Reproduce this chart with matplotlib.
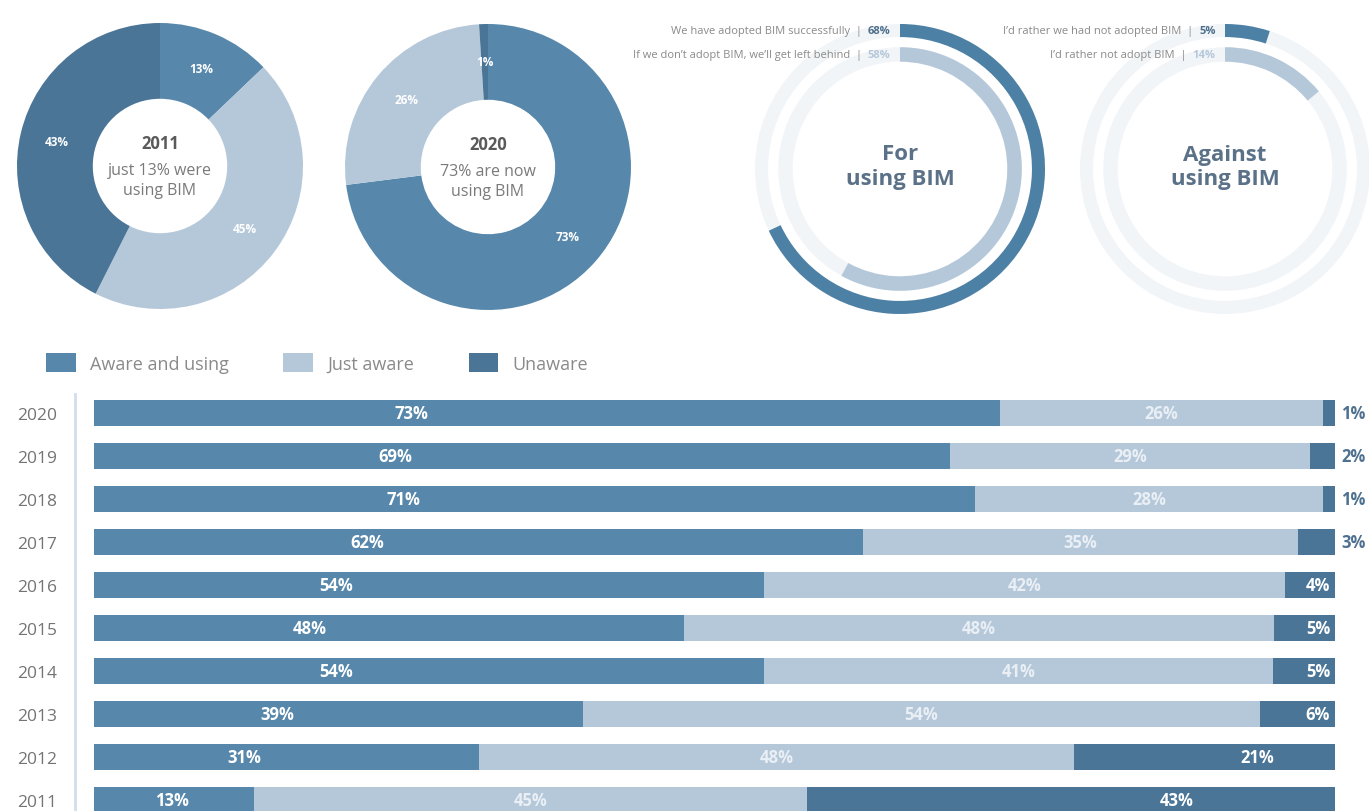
import numpy as np
import matplotlib.pyplot as plt
from matplotlib.patches import Patch

plt.rcParams['font.family'] = ['Open Sans', 'DejaVu Sans']

#%% Data

years      = ['2011', '2012', '2013', '2014', '2015', '2016', '2017', '2018', '2019', '2020']
aware      = [13, 31, 39, 54, 48, 54, 62, 71, 69, 73]
just_aware = [45, 48, 54, 41, 48, 42, 35, 28, 29, 26]
unaware    = [43, 21,  6,  5,  5,  4,  3,  1,  2,  1]
series     = ['Aware and using', 'Just aware', 'Unaware']

pie_2011   = [13, 45, 43]
pie_2020   = [73, 26, 1]
text_2011  = 'just 13% were\nusing BIM'
text_2020  = '73% are now\nusing BIM'

for_labels     = ['We have adopted BIM successfully', 'If we don\u2019t adopt BIM, we\u2019ll get left behind']
for_values     = [68, 58]
against_labels = ['I\u2019d rather we had not adopted BIM', 'I\u2019d rather not adopt BIM']
against_values = [5, 14]

#%% Style

c_aware   = '#5788ac'
c_light   = '#b5c8da'
c_unaware = '#4a7597'
c_ring    = '#4d80a5'
c_track   = '#f2f5f8'
c_text    = '#747474'
c_title   = '#5b7188'

W, H = 1369, 812
fig = plt.figure(figsize=(W / 100, H / 100), dpi=100, facecolor='white')


def px_axes(cx, cy, r):
    ax = fig.add_axes([(cx - r) / W, 1 - (cy + r) / H, 2 * r / W, 2 * r / H])
    return ax


def donut(cx, cy, vals, year, sub):
    ax = px_axes(cx, cy, 143)
    wedges, _ = ax.pie(vals, colors=[c_aware, c_light, c_unaware], startangle=90,
                       counterclock=False, wedgeprops=dict(width=0.53, linewidth=0))
    for w, v in zip(wedges, vals):
        ang = np.deg2rad((w.theta1 + w.theta2) / 2)
        ax.text(0.74 * np.cos(ang), 0.74 * np.sin(ang), '{}%'.format(v), color='white',
                fontsize=8.5, fontweight='bold', ha='center', va='center')
    ax.text(0, 0.16, year, color='#5a5a5a', fontsize=12, fontweight='bold', ha='center', va='center')
    ax.text(0, -0.1, sub, color='#7a7a7a', fontsize=11.5, ha='center', va='center', linespacing=1.3)
    ax.set_xlim(-1, 1)
    ax.set_ylim(-1, 1)
    ax.axis('off')


def ring(cx, cy, vals, labels, title):
    ax = px_axes(cx, cy, 145)
    radii  = [1.0, 0.84]
    widths = [0.09, 0.1]
    cols   = [c_ring, c_light]
    vcols  = ['#4f6f8c', c_light]
    for v, lab, r, wd, c, vc in zip(vals, labels, radii, widths, cols, vcols):
        ax.pie([100], radius=r, colors=[c_track], wedgeprops=dict(width=wd, linewidth=0))
        ax.pie([v, 100 - v], radius=r, colors=[c, 'none'], startangle=90, counterclock=False,
               wedgeprops=dict(width=wd, linewidth=0))
        t = ax.text(-0.065, r - wd / 2, '{}%'.format(v), color=vc, fontsize=8,
                    fontweight='bold', ha='right', va='center')
        ax.annotate(lab + '  |  ', xy=(0, 0.5), xycoords=t, color='#8a8a8a', fontsize=8,
                    ha='right', va='center')
    ax.text(0, 0.02, title, color=c_title, fontsize=16, fontweight='bold', ha='center',
            va='center', linespacing=1.2)
    ax.set_xlim(-1, 1)
    ax.set_ylim(-1, 1)
    ax.axis('off')


#%% Top charts

donut(160, 167, pie_2011, '2011', text_2011)
donut(488, 168, pie_2020, '2020', text_2020)
ring(900, 170, for_values, for_labels, 'For\nusing BIM')
ring(1225, 170, against_values, against_labels, 'Against\nusing BIM')

#%% Legend

handles = [Patch(color=c, linewidth=0) for c in [c_aware, c_light, c_unaware]]
fig.legend(handles, series, loc='upper left', bbox_to_anchor=(37 / W, 1 - 345 / H),
           ncol=3, frameon=False, fontsize=13, handlelength=1.65, handleheight=1.25,
           handletextpad=0.8, columnspacing=3.0, borderpad=0, labelcolor='#8a8a8a')

#%% Stacked bars

axb = fig.add_axes([75 / W, 0, 1260 / W, (H - 395) / H])

vals  = np.array([aware, just_aware, unaware], dtype=float)
share = vals / vals.sum(axis=0) * 100
ypos  = np.arange(len(years))
left  = np.zeros(len(years))

for k, c in enumerate([c_aware, c_light, c_unaware]):
    axb.barh(ypos, share[k], left=left, height=0.6, color=c, linewidth=0)
    for i in range(len(years)):
        v, w, l = vals[k, i], share[k, i], left[i]
        lab = '{:.0f}%'.format(v)
        if k == 0:
            axb.text(l + 0.32 * w + 2.2, i, lab, color='white', fontsize=12,
                     fontweight='bold', ha='center', va='center')
        elif k == 1:
            axb.text(l + w / 2, i, lab, color='#e9eff5', fontsize=12,
                     fontweight='bold', ha='center', va='center')
        else:
            if v <= 3:
                axb.text(100.5, i, lab, color='#4f7190', fontsize=12, fontweight='bold',
                         ha='left', va='center', clip_on=False)
            elif v < 10:
                axb.text(99.6, i, lab, color='white', fontsize=12, fontweight='bold',
                         ha='right', va='center')
            else:
                axb.text(l + 0.7 * w, i, lab, color='white', fontsize=12,
                         fontweight='bold', ha='center', va='center')
    left += share[k]

axb.set_xlim(-(94 - 75) / (1335 - 94) * 100, 100)
axb.set_ylim(-0.256, 9.442)
axb.set_yticks(ypos)
axb.set_yticklabels(years, color=c_text, fontsize=12.5)
axb.set_xticks([])
axb.tick_params(axis='y', length=0, pad=13)
for s in ['top', 'right', 'bottom']:
    axb.spines[s].set_visible(False)
axb.spines['left'].set_color('#d3dee8')
axb.spines['left'].set_linewidth(2)
axb.patch.set_alpha(0)

fig.savefig('out.png', dpi=100, facecolor='white')
